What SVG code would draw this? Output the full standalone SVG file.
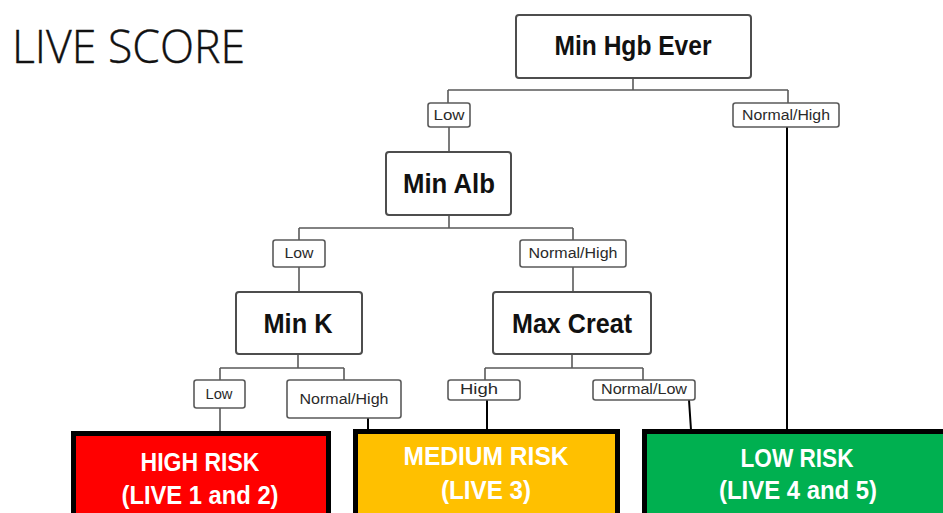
<svg xmlns="http://www.w3.org/2000/svg" width="943" height="513" viewBox="0 0 943 513">
<style>
.node{fill:#fff;stroke:#4d4d4d;stroke-width:2}
.lab{fill:#fff;stroke:#5a5a5a;stroke-width:1.6}
.nt{font-family:"Liberation Sans",Arial,sans-serif;font-weight:bold;font-size:27px;fill:#111;text-anchor:middle}
.lt{font-family:"Liberation Sans",Arial,sans-serif;font-size:14px;fill:#2a2a2a;text-anchor:middle}
.tree{fill:none;stroke:#5a5a5a;stroke-width:1.6}
.blk{fill:none;stroke:#000;stroke-width:2}
.risk{stroke:#000;stroke-width:5}
.rt{font-family:"Liberation Sans",Arial,sans-serif;font-weight:bold;font-size:25px;fill:#fff;text-anchor:middle}
</style>
<rect width="943" height="513" fill="#fff"/>
<text x="12" y="63" font-family="'Open Sans','Liberation Sans',sans-serif" font-weight="300" font-size="46" fill="#111" stroke="#111" stroke-width="0.4" textLength="233" lengthAdjust="spacingAndGlyphs">LIVE SCORE</text>

<g id="connectors">
<path class="tree" d="M633 78V90M448 90H788M448 90V103M788 90V103"/>
<path class="tree" d="M449 127V152"/>
<path class="tree" d="M449 215V228M299 228H573M299 228V240M573 228V240"/>
<path class="tree" d="M299 267V292M573 267V292"/>
<path class="tree" d="M298 354V368M220 368H344M220 368V380M344 368V380"/>
<path class="tree" d="M572 354V368M485 368H643M485 368V380M643 368V380"/>
<path class="tree" d="M220 408V432"/>
<path class="blk" d="M368 418V431M487 400V430M689 400L691 430M787 127V430"/>
</g>

<g id="n-hgb"><rect class="node" x="516" y="15" width="235" height="63" rx="3"/><text class="nt" x="633" y="55" textLength="157" lengthAdjust="spacingAndGlyphs">Min Hgb Ever</text></g>
<g id="l-low1"><rect class="lab" x="428" y="103" width="42" height="24" rx="2.5"/><text class="lt" x="449" y="120" textLength="31" lengthAdjust="spacingAndGlyphs">Low</text></g>
<g id="l-nh1"><rect class="lab" x="733" y="103" width="106" height="24" rx="2.5"/><text class="lt" x="786" y="120" textLength="88" lengthAdjust="spacingAndGlyphs">Normal/High</text></g>

<g id="n-alb"><rect class="node" x="386" y="152" width="125" height="63" rx="3"/><text class="nt" x="449" y="193" textLength="92" lengthAdjust="spacingAndGlyphs">Min Alb</text></g>
<g id="l-low2"><rect class="lab" x="273" y="240" width="52" height="27" rx="2.5"/><text class="lt" x="299" y="258" textLength="29" lengthAdjust="spacingAndGlyphs">Low</text></g>
<g id="l-nh2"><rect class="lab" x="520" y="240" width="106" height="27" rx="2.5"/><text class="lt" x="573" y="258" textLength="89" lengthAdjust="spacingAndGlyphs">Normal/High</text></g>

<g id="n-k"><rect class="node" x="236" y="292" width="126" height="62" rx="3"/><text class="nt" x="298" y="333" textLength="69" lengthAdjust="spacingAndGlyphs">Min K</text></g>
<g id="n-creat"><rect class="node" x="493" y="292" width="158" height="62" rx="3"/><text class="nt" x="572" y="333" textLength="120" lengthAdjust="spacingAndGlyphs">Max Creat</text></g>

<g id="l-low3"><rect class="lab" x="194" y="380" width="51" height="28" rx="2.5"/><text class="lt" x="219" y="399" textLength="27" lengthAdjust="spacingAndGlyphs">Low</text></g>
<g id="l-nh3"><rect class="lab" x="287" y="380" width="114" height="38" rx="2.5"/><text class="lt" x="344" y="404" textLength="89" lengthAdjust="spacingAndGlyphs">Normal/High</text></g>
<g id="l-high"><rect class="lab" x="448" y="380" width="72" height="20" rx="2.5"/><text class="lt" x="479" y="394" textLength="38" lengthAdjust="spacingAndGlyphs">High</text></g>
<g id="l-nl"><rect class="lab" x="593" y="380" width="102" height="20" rx="2.5"/><text class="lt" x="644" y="394" textLength="86" lengthAdjust="spacingAndGlyphs">Normal/Low</text></g>

<g id="r-high"><rect class="risk" x="73.5" y="433.5" width="255" height="90" fill="#ff0000"/><text class="rt" x="200" y="471" textLength="119" lengthAdjust="spacingAndGlyphs">HIGH RISK</text><text class="rt" x="200" y="504" textLength="157" lengthAdjust="spacingAndGlyphs">(LIVE 1 and 2)</text></g>
<g id="r-med"><rect class="risk" x="355.5" y="431.5" width="262" height="90" fill="#ffc000"/><text class="rt" x="486" y="465" textLength="165" lengthAdjust="spacingAndGlyphs">MEDIUM RISK</text><text class="rt" x="486" y="499" textLength="90" lengthAdjust="spacingAndGlyphs">(LIVE 3)</text></g>
<g id="r-low"><rect class="risk" x="644.5" y="431.5" width="310" height="90" fill="#00b050"/><text class="rt" x="797" y="467" textLength="113" lengthAdjust="spacingAndGlyphs">LOW RISK</text><text class="rt" x="798" y="499" textLength="158" lengthAdjust="spacingAndGlyphs">(LIVE 4 and 5)</text></g>
</svg>
